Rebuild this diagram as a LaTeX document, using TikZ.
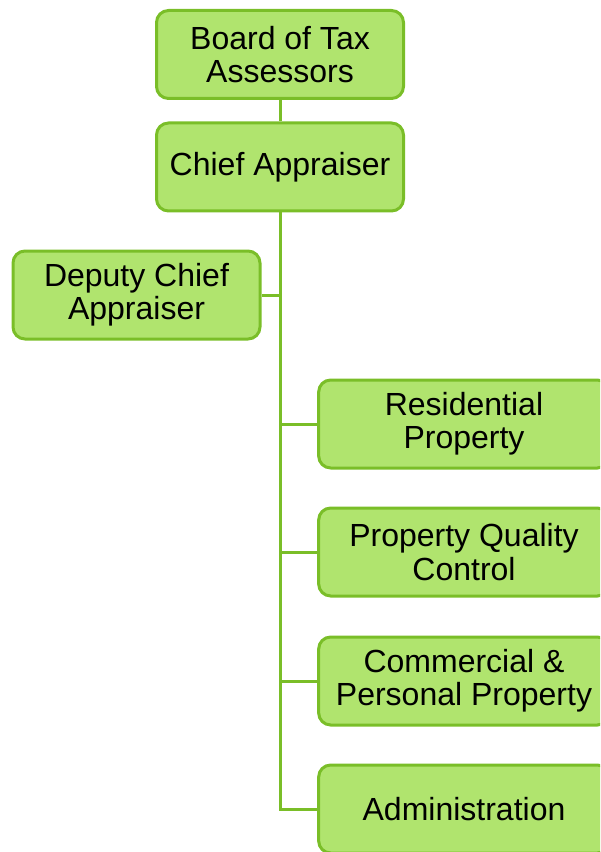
\documentclass[tikz,border=0pt]{standalone}
\usepackage{fontspec}
\setmainfont{Liberation Sans}
\definecolor{boxfill}{RGB}{176,228,110}
\definecolor{boxline}{RGB}{122,190,40}
\begin{document}
\begin{tikzpicture}[x=0.75pt,y=-0.75pt,
  orgbox/.style={draw=boxline, fill=boxfill, line width=2.25pt, rounded corners=9pt,
    minimum width=185.25pt, minimum height=66pt, align=center, inner sep=0pt,
    font=\fontsize{24}{25}\selectfont},
  widebox/.style={orgbox, minimum width=218pt},
  link/.style={draw=boxline, line width=2.25pt}]
\useasboundingbox (0,0) rectangle (600,852);
\clip (0,0) rectangle (600,852);
\node[orgbox] (board) at (280,54.5) {Board of Tax\\Assessors};
\node[orgbox] (chief) at (280,167) {Chief Appraiser};
\node[orgbox] (dep) at (136.5,295) {Deputy Chief\\Appraiser};
\node[widebox] (res) at (464,424) {Residential\\Property};
\node[widebox] (pqc) at (464,552) {Property Quality\\Control};
\node[widebox] (com) at (464,681) {Commercial \&\\Personal Property};
\node[widebox] (adm) at (464,809) {Administration};
\path[link] (board.south) -- (chief.north);
\path[link] (chief.south) |- (adm.west);
\path[link] (chief.south |- dep.east) -- (dep.east);
\path[link] (chief.south |- res.west) -- (res.west);
\path[link] (chief.south |- pqc.west) -- (pqc.west);
\path[link] (chief.south |- com.west) -- (com.west);
\end{tikzpicture}
\end{document}
